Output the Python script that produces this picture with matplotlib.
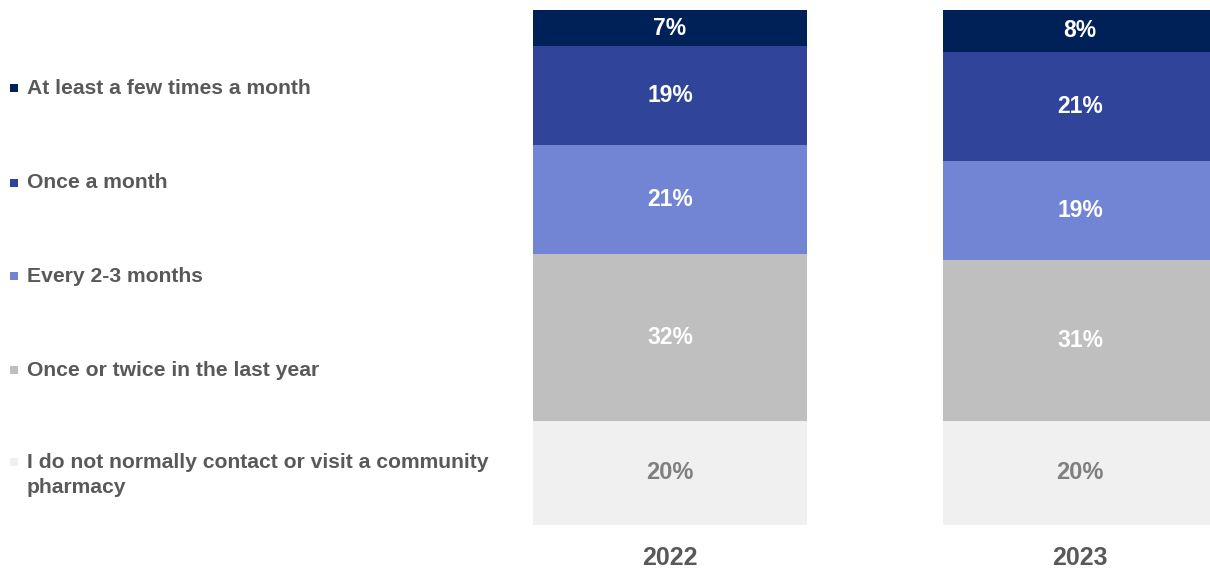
import matplotlib.pyplot as plt
from matplotlib.patches import Rectangle
import numpy as np

years = ["2022", "2023"]
categories = [
    "I do not normally contact or visit a community\npharmacy",
    "Once or twice in the last year",
    "Every 2-3 months",
    "Once a month",
    "At least a few times a month",
]
# shares per category, bottom of the stack first
never = [20, 20]
yearly = [32, 31]
every_2_3 = [21, 19]
monthly = [19, 21]
few_monthly = [7, 8]
shares = [never, yearly, every_2_3, monthly, few_monthly]

colors = ["#f0f0f0", "#bfbfbf", "#7284d4", "#30459a", "#002157"]
label_colors = ["#7f7f7f", "white", "white", "white", "white"]
text_grey = "#595959"

W, H = 1210, 569
fig = plt.figure(figsize=(W / 100, H / 100), dpi=100)
ax = fig.add_axes([533 / W, 1 - 525 / H, 1 - 533 / W, 515 / H])

x = np.arange(len(years))
bottom = np.zeros(len(years))
for vals, col, lc, i in zip(shares, colors, label_colors, range(len(shares))):
    ax.bar(x, vals, bottom=bottom, width=0.668, color=col, edgecolor="none")
    for xi, b, v in zip(x, bottom, vals):
        if i == 0:
            ax.text(xi, b + v / 2, f"{v}%", ha="center", va="center", color=lc,
                    fontsize=17, fontweight="bold", family=["Liberation Sans Narrow", "Liberation Sans"])
        else:
            ax.text(xi, b + v / 2, f"{v}%", ha="center", va="center", color=lc,
                    fontsize=16.5, fontweight="bold", family="Liberation Sans")
    bottom += np.array(vals)

ax.set_xlim(-0.334, (W - 670) / 410)
ax.set_ylim(0, 99)
ax.axis("off")

for xi, yr in zip(x, years):
    ax.text(xi, -6.3, yr, ha="center", va="center", color=text_grey, fontsize=18,
            fontweight="bold", family=["Liberation Sans Narrow", "Liberation Sans"])

# legend drawn by hand, top entry first
legend_y = [88, 183, 276, 370, 462]
for lab, col, yy in zip(categories[::-1], colors[::-1], legend_y):
    fig.add_artist(Rectangle((10 / W, 1 - (yy + 4) / H), 8 / W, 8 / H,
                             transform=fig.transFigure, color=col, lw=0))
    n_lines = lab.count("\n") + 1
    yc = yy + (n_lines - 1) * 13
    fig.text(27 / W, 1 - yc / H, lab, ha="left", va="center", color=text_grey,
             fontsize=15.2, fontweight="bold", family="Liberation Sans", linespacing=1.45)

fig.savefig("out.png", dpi=100)
